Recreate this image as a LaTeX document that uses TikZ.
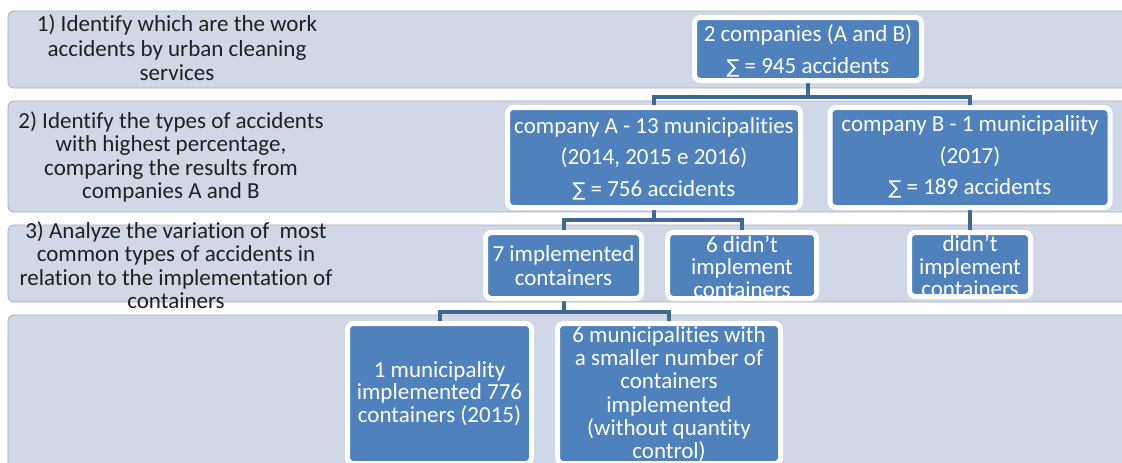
\documentclass[tikz,border=0pt]{standalone}
\usepackage{fontspec}
\setmainfont{Carlito}[Ligatures={TeX,NoCommon}]
\newfontfamily\dvsans{DejaVu Sans}
\pgfdeclarelayer{bg}
\pgfdeclarelayer{conn}
\pgfsetlayers{bg,conn,main}
\definecolor{bandfill}{HTML}{D0D8E8}
\definecolor{bandline}{HTML}{A8AEB8}
\definecolor{boxfill}{HTML}{4F81BD}
\definecolor{connc}{HTML}{3F6795}
\newcommand{\sumsym}{{\dvsans\fontsize{19}{19}\selectfont ∑}}
\tikzset{
  band/.style={fill=bandfill, draw=bandline, line width=0.8pt, rounded corners=6pt},
  bx/.style={rectangle, fill=boxfill, draw=white, line width=5pt, rounded corners=6pt, inner sep=0pt},
  bxtext/.style={text=white, align=center, inner sep=0pt},
  lbl/.style={text=black!88, align=center, inner sep=0pt},
  conn/.style={draw=connc, line width=4pt},
}
\begin{document}
\begin{tikzpicture}[x=1pt,y=-1pt]
\useasboundingbox (0,0) rectangle (1122,463);
% bands
\begin{pgfonlayer}{bg}
\path[band] (8,11) rectangle (1140,88);
\path[band] (8,101) rectangle (1140,212);
\path[band] (8,225) rectangle (1140,302);
\path[band] (8,315) rectangle (1140,480);
\end{pgfonlayer}
% left labels
\node[lbl, font=\fontsize{23}{24.5}\selectfont] (L1) at (177,48) {1) Identify which are the work\\accidents by urban cleaning\\services};
\node[lbl, font=\fontsize{23}{23.5}\selectfont] (L2) at (171,157) {2) Identify the types of accidents\\with highest percentage,\\comparing the results from\\companies A and B};
\node[lbl, font=\fontsize{23}{23.5}\selectfont] (L3) at (176,265) {3) Analyze the variation of\ \ most\\common types of accidents in\\relation to the implementation of\\containers};
% boxes
\node[bx, minimum width=227pt, minimum height=63pt] (top) at (808,49) {};
\node[bxtext, font=\fontsize{23}{32}\selectfont] (topT) at (808,51) {2 companies (A and B)\\\sumsym{} = 945 accidents};
\node[bx, minimum width=293pt, minimum height=100pt] (cA) at (654,157.5) {};
\node[bxtext, font=\fontsize{23}{31.5}\selectfont] (cAT) at (654,158.5) {company A - 13 municipalities\\(2014, 2015 e 2016)\\\sumsym{} = 756 accidents};
\node[bx, minimum width=280pt, minimum height=100pt] (cB) at (970,157.5) {};
\node[bxtext, font=\fontsize{23}{31.5}\selectfont] (cBT) at (970,157) {company B - 1 municipaliity\\(2017)\\\sumsym{} = 189 accidents};
\node[bx, minimum width=156pt, minimum height=66pt] (c1) at (563.5,265.5) {};
\node[bxtext, font=\fontsize{23}{24}\selectfont] (c1T) at (563.5,265.5) {7 implemented\\containers};
\node[bx, minimum width=149pt, minimum height=66pt,
  path picture={\node[bxtext, font=\fontsize{23}{22.5}\selectfont] at ([yshift=-1pt]path picture bounding box.center) {6 didn't\\implement\\containers};}] (c2) at (742,265.5) {};
\node[bx, minimum width=121pt, minimum height=64pt,
  path picture={\node[bxtext, font=\fontsize{23}{22.5}\selectfont] at ([yshift=-1.5pt]path picture bounding box.center) {didn't\\implement\\containers};}] (c3) at (970,264.5) {};
\node[bx, minimum width=184pt, minimum height=140pt] (d1) at (439.5,393.5) {};
\node[bxtext, font=\fontsize{23}{22.5}\selectfont] (d1T) at (439.5,393.5) {1 municipality\\implemented 776\\containers (2015)};
\node[bx, minimum width=223pt, minimum height=140pt,
  path picture={\node[bxtext, font=\fontsize{23}{23.3}\selectfont] at ([yshift=-0.5pt]path picture bounding box.center) {6 municipalities with\\a smaller number of\\containers\\implemented\\(without quantity\\control)};}] (d2) at (669,393.5) {};
% connectors
\coordinate (j1) at (808,97);
\coordinate (j2) at (654,219.5);
\coordinate (j3) at (563.5,312);
\begin{pgfonlayer}{conn}
\draw[conn] (top.south) -- (j1);
\draw[conn] (cA.north) |- (j1) -| (cB.north);
\draw[conn] (cA.south) -- (j2);
\draw[conn] (c1.north) |- (j2) -| (c2.north);
\draw[conn] (cB.south) -- (c3.north);
\draw[conn] (c1.south) -- (j3);
\draw[conn] (d1.north) |- (j3) -| (d2.north);
\end{pgfonlayer}
\end{tikzpicture}
\end{document}
